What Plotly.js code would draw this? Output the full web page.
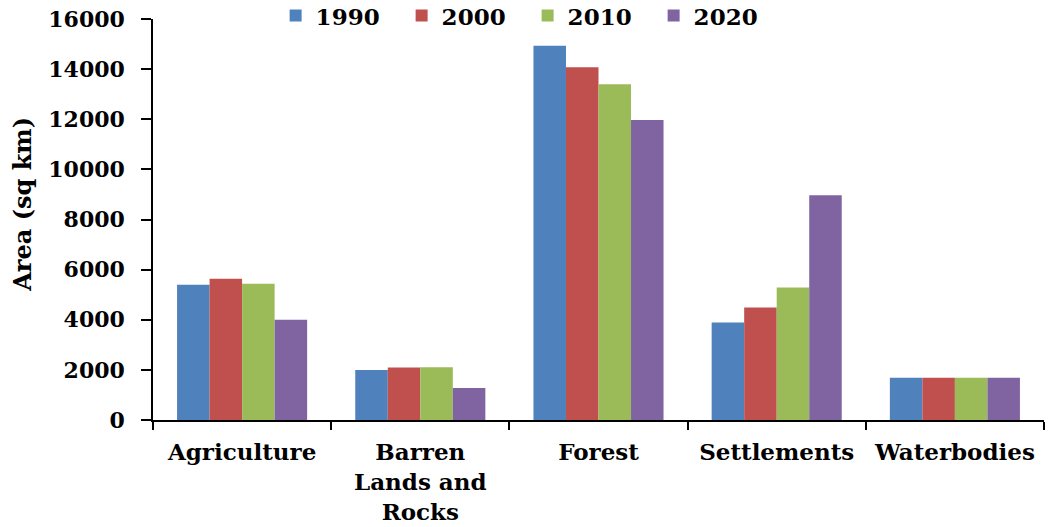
<!DOCTYPE html>
<html>
<head>
<meta charset="utf-8">
<script src="https://cdn.plot.ly/plotly-3.0.1.min.js"></script>
<style>html,body{margin:0;padding:0;background:#fff;}#chart{width:1048px;height:527px;}</style>
</head>
<body>
<div id="chart"></div>
<script>
var categories = ["Agriculture", "Barren<br>Lands and<br>Rocks", "Forest", "Settlements", "Waterbodies"];
var years = ["1990", "2000", "2010", "2020"];
var values1990 = [5400, 2000, 14930, 3890, 1690];
var values2000 = [5640, 2090, 14070, 4490, 1690];
var values2010 = [5440, 2100, 13400, 5290, 1690];
var values2020 = [4000, 1280, 11970, 8970, 1690];
var yTicks = [0, 2000, 4000, 6000, 8000, 10000, 12000, 14000, 16000];
var yTitle = "Area (sq km)";

var seriesValues = [values1990, values2000, values2010, values2020];
var colors = ["#4F81BD", "#C0504D", "#9BBB59", "#8064A2"];
var serif = "DejaVu Serif";

var data = years.map(function (yr, i) {
  return {
    type: "bar",
    name: yr,
    x: categories,
    y: seriesValues[i],
    marker: { color: colors[i], line: { width: 0 } },
    hoverinfo: "x+y+name"
  };
});

var layout = {
  width: 1048,
  height: 527,
  margin: { l: 153, r: 4, t: 19, b: 107, pad: 0, autoexpand: false },
  paper_bgcolor: "#ffffff",
  plot_bgcolor: "#ffffff",
  barmode: "group",
  bargap: 0.27,
  bargroupgap: 0,
  font: { family: serif, color: "#000000", size: 22, weight: "bold" },
  showlegend: true,
  legend: {
    orientation: "h",
    xref: "container",
    yref: "paper",
    x: 0.263,
    y: 1.062,
    xanchor: "left",
    yanchor: "top",
    entrywidth: 81,
    font: { family: serif, size: 23, color: "#000000", weight: "bold" },
    bgcolor: "rgba(0,0,0,0)",
    traceorder: "normal"
  },
  xaxis: {
    type: "category",
    showgrid: false,
    zeroline: false,
    showline: true,
    linecolor: "#000000",
    linewidth: 1.5,
    ticks: "outside",
    tickson: "boundaries",
    ticklen: 8,
    tickwidth: 1.5,
    tickcolor: "#000000",
    tickangle: 0,
    ticklabelstandoff: 11,
    tickfont: { family: serif, size: 23, color: "#000000", weight: "bold" },
    automargin: false
  },
  yaxis: {
    range: [0, 16000],
    tickvals: yTicks,
    ticktext: yTicks.map(String),
    showgrid: false,
    zeroline: false,
    showline: true,
    linecolor: "#000000",
    linewidth: 1.5,
    ticks: "outside",
    ticklen: 10,
    tickwidth: 1.5,
    tickcolor: "#000000",
    ticklabelstandoff: 12,
    tickfont: { family: serif, size: 22, color: "#000000", weight: "bold" },
    automargin: false
  },
  annotations: [{
    text: yTitle,
    xref: "paper",
    yref: "paper",
    x: -0.146,
    y: 0.539,
    xanchor: "center",
    yanchor: "middle",
    textangle: -90,
    showarrow: false,
    font: { family: serif, size: 24, color: "#000000", weight: "bold" }
  }]
};

Plotly.newPlot("chart", data, layout, { displayModeBar: false, responsive: false });
</script>
</body>
</html>
